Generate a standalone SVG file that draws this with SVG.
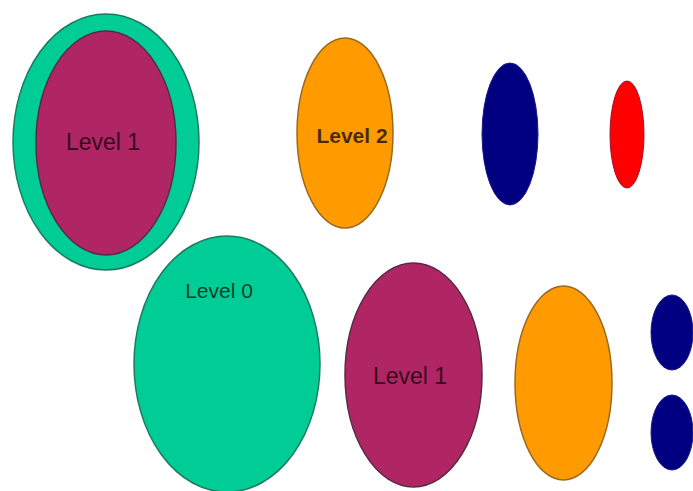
<svg xmlns="http://www.w3.org/2000/svg" width="693" height="491" viewBox="0 0 693 491">
<style>
.green{fill:#00CC96;stroke:#1F7A62;stroke-width:1.5}
.mag{fill:#B02564;stroke:#5A2A45;stroke-width:1.5}
.orange{fill:#FF9B00;stroke:#9A6A20;stroke-width:1.5}
.navy{fill:#000080;stroke:#1A1A8A;stroke-width:1}
.red{fill:#FF0000;stroke:#A01030;stroke-width:1}
text{font-family:"Liberation Sans",Arial,sans-serif;fill:#000;fill-opacity:0.72;text-anchor:middle}
</style>
<rect width="693" height="491" fill="#fff"/>
<g id="outer-level0">
<ellipse class="green" cx="106" cy="142" rx="93" ry="128"/>
</g>
<g id="inner-level1">
<ellipse class="mag" cx="106" cy="143" rx="70" ry="112"/>
<text x="103" y="150" font-size="23">Level 1</text>
</g>
<g id="level2-top">
<ellipse class="orange" cx="345" cy="133" rx="48" ry="95"/>
<text x="352" y="143" font-size="21" font-weight="bold">Level 2</text>
</g>
<g id="level3-top">
<ellipse class="navy" cx="510" cy="134" rx="28" ry="71"/>
</g>
<g id="level4-top">
<ellipse class="red" cx="627" cy="134.5" rx="17" ry="53.5"/>
</g>
<g id="level0">
<ellipse class="green" cx="227" cy="364" rx="93" ry="128"/>
<text x="219" y="298" font-size="21">Level 0</text>
</g>
<g id="level1">
<ellipse class="mag" cx="413.5" cy="375" rx="68.5" ry="112"/>
<text x="410" y="384" font-size="23">Level 1</text>
</g>
<g id="level2">
<ellipse class="orange" cx="563.5" cy="383" rx="48.5" ry="97"/>
</g>
<g id="level3a">
<ellipse class="navy" cx="672" cy="332.5" rx="21" ry="37.5"/>
</g>
<g id="level3b">
<ellipse class="navy" cx="672" cy="432.5" rx="21" ry="37.5"/>
</g>
<g id="connectors"></g>
</svg>
